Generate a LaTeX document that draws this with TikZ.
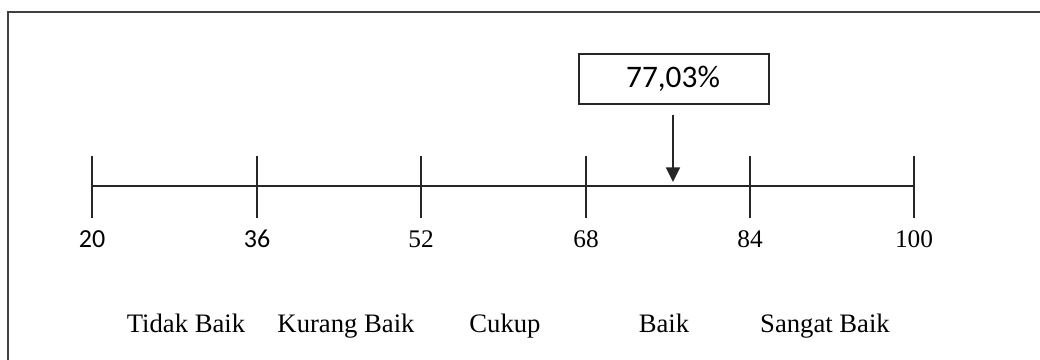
\documentclass[tikz,border=0pt]{standalone}
\usepackage{fontspec}
\usetikzlibrary{arrows.meta}
\newfontfamily\calib{Carlito}
\newfontfamily\camb{Liberation Serif}
\begin{document}
\begin{tikzpicture}[x=0.75pt,y=-0.75pt,
  axisline/.style={line width=1.2pt,draw=black!85},
  tickline/.style={line width=1.2pt,draw=black!85},
  numsans/.style={font=\calib\fontsize{19.5pt}{21pt}\selectfont,inner sep=0pt,anchor=base,text=black},
  numserif/.style={font=\camb\fontsize{19pt}{21pt}\selectfont,inner sep=0pt,anchor=base,text=black},
  catlabel/.style={font=\camb\fontsize{20pt}{22pt}\selectfont,inner sep=0pt,anchor=base,text=black},
  valbox/.style={draw=black!85,line width=1.2pt,minimum width=190*0.75pt,minimum height=50*0.75pt,inner sep=0pt},
  valtext/.style={font=\calib\fontsize{23.5pt}{25pt}\selectfont,inner sep=0pt,anchor=base,text=black}]
\useasboundingbox (0,0) rectangle (1040,360);
\begin{scope}
\clip (0,0) rectangle (1040,360);
\draw[line width=1.3pt,draw=black!75] (8,12) rectangle (1050,370);
\end{scope}
% ticks
\foreach \n/\x in {t20/92,t36/257,t52/421,t68/586,t84/750,t100/914}{
  \coordinate (\n top) at (\x,156);
  \coordinate (\n bot) at (\x,218);
  \coordinate (\n) at (\x,186);
  \draw[tickline] (\n top) -- (\n bot);
}
\draw[axisline] (t20) -- (t100);
% numbers
\node[numsans] (n20) at (92,247) {20};
\node[numsans] (n36) at (257,247) {36};
\node[numserif] (n52) at (421,247) {52};
\node[numserif] (n68) at (586,247) {68};
\node[numserif] (n84) at (750,247) {84};
\node[numserif] (n100) at (914,247) {100};
% categories
\node[catlabel] (c1) at (186,332) {Tidak Baik};
\node[catlabel] (c2) at (346,332) {Kurang Baik};
\node[catlabel] (c3) at (505,332) {Cukup};
\node[catlabel] (c4) at (664,332) {Baik};
\node[catlabel] (c5) at (825,332) {Sangat Baik};
% value box and arrow
\node[valbox] (val) at (674,79) {};
\node[valtext] (valt) at (673,88) {77,03\%};
\coordinate (atip) at (673,182);
\draw[line width=1.2pt,draw=black!85,-{Triangle[width=10.5pt,length=11pt]}] ([yshift=-10*0.75pt]val.south -| atip) -- (atip);
\end{tikzpicture}
\end{document}
